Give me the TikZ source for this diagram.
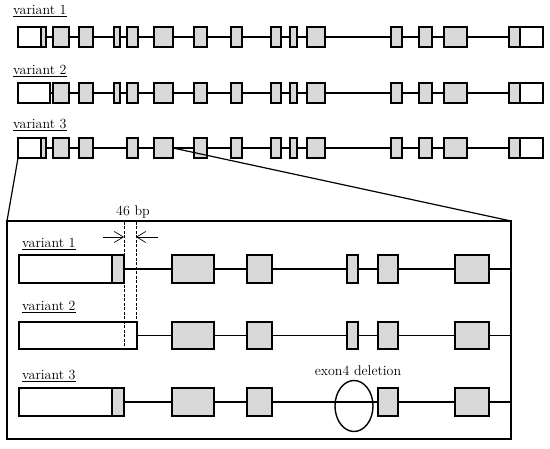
\documentclass[tikz,border=0pt]{standalone}
\usetikzlibrary{arrows.meta,shapes.geometric}
\definecolor{exgray}{RGB}{217,217,217}
\newcommand\mkexon[6]{% style, name, x1, x2, yc, h
  \pgfmathsetmacro\exw{#4-#3}\pgfmathsetmacro\exc{(#3+#4)/2}%
  \node[#1, minimum width=\exw pt, minimum height=#6 pt] (#2) at (\exc,#5) {};}
\tikzset{
  exon/.style={draw, fill=exgray, line width=1.4pt, inner sep=0pt, outer sep=0pt, rectangle},
  utr/.style={draw, fill=white, line width=1.4pt, inner sep=0pt, outer sep=0pt, rectangle},
  intron/.style={line width=1.2pt},
  lbl/.style={inner sep=0pt, anchor=base west, font=\fontsize{14}{16}\selectfont},
  zoomline/.style={line width=1.2pt},
  dimline/.style={line width=0.7pt, -{Straight Barb[length=9pt,width=11pt,line width=0.7pt]}},
  guide/.style={line width=0.9pt, dash pattern=on 3pt off 1.5pt}
}
\begin{document}
\begin{tikzpicture}[x=1pt,y=-1pt]
\useasboundingbox (0,0) rectangle (550,449);
% ---------- overview ----------
\node[lbl] (lab1) at (13,15) {\underline{variant 1}};
\node[lbl] (lab2) at (13,75) {\underline{variant 2}};
\node[lbl] (lab3) at (13,129) {\underline{variant 3}};
% variant 1
\mkexon{utr}{aL}{18}{41}{37}{20}
\mkexon{exon}{a0}{41}{46}{37}{20}
\foreach \p/\q [count=\i, remember=\i as \j (initially 0)] in
  {53/69,79/93,114/120,127/138,154/173,194/207,231/242,271/281,290/297,307/325,391/402,419/432,444/467}{
  \mkexon{exon}{a\i}{\p}{\q}{37}{20}
  \draw[intron] (a\j.east) -- (a\i.west);
}
\mkexon{exon}{aR}{509}{520}{37}{20}
\mkexon{utr}{aRR}{520}{543}{37}{20}
\draw[intron] (a13.east) -- (aR.west);
% variant 2
\mkexon{utr}{b0}{18}{50}{93}{20}
\foreach \p/\q [count=\i, remember=\i as \j (initially 0)] in
  {53/69,79/93,114/120,127/138,154/173,194/207,231/242,271/281,290/297,307/325,391/402,419/432,444/467}{
  \mkexon{exon}{b\i}{\p}{\q}{93}{20}
  \draw[intron] (b\j.east) -- (b\i.west);
}
\mkexon{exon}{bR}{509}{520}{93}{20}
\mkexon{utr}{bRR}{520}{543}{93}{20}
\draw[intron] (b13.east) -- (bR.west);
% variant 3
\mkexon{utr}{cL}{18}{41}{148}{20}
\mkexon{exon}{c0}{41}{46}{148}{20}
\foreach \p/\q [count=\i, remember=\i as \j (initially 0)] in
  {53/69,79/93,127/138,154/173,194/207,231/242,271/281,290/297,307/325,391/402,419/432,444/467}{
  \mkexon{exon}{c\i}{\p}{\q}{148}{20}
  \draw[intron] (c\j.east) -- (c\i.west);
}
\mkexon{exon}{cR}{509}{520}{148}{20}
\mkexon{utr}{cRR}{520}{543}{148}{20}
\draw[intron] (c12.east) -- (cR.west);
% ---------- zoom box ----------
\node[draw, line width=1.4pt, inner sep=0pt, outer sep=0pt, minimum width=504pt, minimum height=218pt] (zbox) at (259,330) {};
\draw[zoomline] (cL.south west) -- (zbox.north west);
\draw[zoomline] (c4.east) -- (zbox.north east);
\node[lbl] (zl1) at (22,248) {\underline{variant 1}};
\node[lbl] (zl2) at (22,311) {\underline{variant 2}};
\node[lbl] (zl3) at (22,380) {\underline{variant 3}};
% zoom variant 1
\mkexon{utr}{dL}{19}{112}{269}{28}
\mkexon{exon}{d0}{112}{124}{269}{28}
\foreach \p/\q [count=\i, remember=\i as \j (initially 0)] in {172/214,247/272,347/358,378/398,455/489}{
  \mkexon{exon}{d\i}{\p}{\q}{269}{28}
  \draw[intron] (d\j.east) -- (d\i.west);
}
\coordinate (dE) at (511,269);
\draw[intron] (d5.east) -- (dE);
% zoom variant 2
\mkexon{utr}{e0}{19}{137}{335.5}{27}
\foreach \p/\q [count=\i, remember=\i as \j (initially 0)] in {172/214,247/272,347/358,378/398,455/489}{
  \mkexon{exon}{e\i}{\p}{\q}{335.5}{27}
  \draw[intron] (e\j.east) -- (e\i.west);
}
\coordinate (eE) at (511,335.5);
\draw[intron] (e5.east) -- (eE);
% zoom variant 3
\mkexon{utr}{fL}{19}{112}{402}{28}
\mkexon{exon}{f0}{112}{124}{402}{28}
\foreach \p/\q [count=\i, remember=\i as \j (initially 0)] in {172/214,247/272,378/398,455/489}{
  \mkexon{exon}{f\i}{\p}{\q}{402}{28}
  \draw[intron] (f\j.east) -- (f\i.west);
}
\coordinate (fE) at (511,402);
\draw[intron] (f4.east) -- (fE);
\node[draw, ellipse, line width=1.4pt, inner sep=0pt, minimum width=38pt, minimum height=51pt] (del) at (354,406) {};
\node[lbl, anchor=base] (dellab) at (358,376) {exon4 deletion};
% 46 bp marks
\coordinate (g1t) at (124,222); \coordinate (g1b) at (124,349);
\coordinate (g2t) at (136,222); \coordinate (g2b) at (136,322);
\draw[guide] (g1t) -- (g1b);
\draw[guide] (g2t) -- (g2b);
\coordinate (a1s) at (103,237); \coordinate (a1e) at (124,237);
\coordinate (a2s) at (158,237); \coordinate (a2e) at (136,237);
\draw[dimline] (a1s) -- (a1e);
\draw[dimline] (a2s) -- (a2e);
\node[lbl, anchor=base] (bp) at (133,216) {46 bp};
\end{tikzpicture}
\end{document}
